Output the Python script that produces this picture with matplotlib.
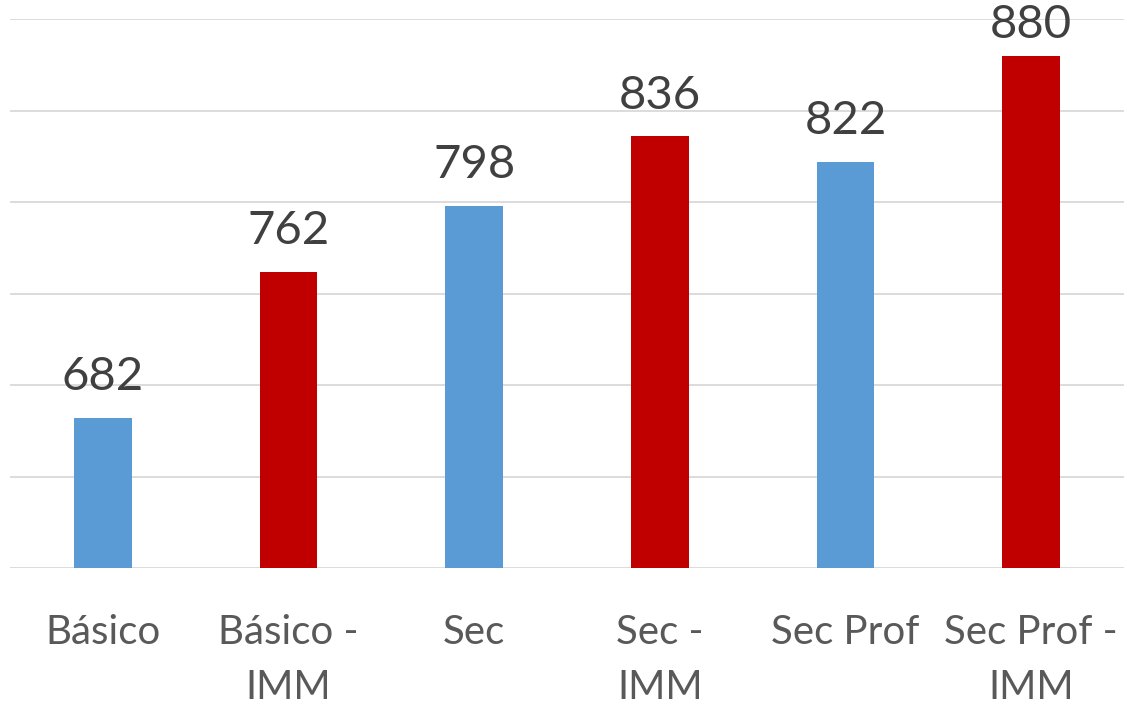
import matplotlib.pyplot as plt
import numpy as np

# category labels and values
categories = ["Básico", "Básico -\nIMM", "Sec", "Sec -\nIMM", "Sec Prof", "Sec Prof -\nIMM"]
values = [682, 762, 798, 836, 822, 880]
group = ["base", "imm", "base", "imm", "base", "imm"]

colorMap = {"base": "#5b9bd5", "imm": "#c00000"}

plt.rcParams['font.family'] = ['Lato', 'DejaVu Sans']

fig = plt.figure(figsize=(11.27, 7.07), dpi=100)
ax = fig.add_axes([10 / 1127, 139 / 707, 1114 / 1127, 549 / 707])

x = np.arange(len(categories))
bars = ax.bar(x, values, 0.31, color=[colorMap[g] for g in group], zorder=3)

ax.set_xlim(-0.5, len(categories) - 0.5)
ax.set_ylim(600, 900)
ax.set_yticks(np.arange(600, 901, 50))
ax.yaxis.grid(True, color="#d9d9d9", linewidth=1.3, zorder=0)
ax.tick_params(axis='y', left=False, labelleft=False)
ax.tick_params(axis='x', length=0, pad=33, labelsize=29, labelcolor="#595959")
ax.set_xticks(x)
ax.set_xticklabels(categories, linespacing=1.6, va='top')
for spine in ax.spines.values():
    spine.set_visible(False)

# value on top of each bar (pushed down when it would leave the figure, like Excel does)
fig.canvas.draw()
renderer = fig.canvas.get_renderer()
figTop = fig.bbox.height
for rect, val in zip(bars, values):
    ann = ax.annotate('{}'.format(val),
                      xy=(rect.get_x() + rect.get_width() / 2, rect.get_height()),
                      xytext=(0, 14), textcoords="offset points",
                      ha='center', va='bottom', fontsize=34, color="#404040",
                      annotation_clip=False)
    ext = ann.get_window_extent(renderer)
    over = ext.y1 - (figTop - 4)
    if over > 0:
        ann.set_position((0, 14 - over * 72 / fig.dpi))

fig.savefig("out.png", dpi=100)
